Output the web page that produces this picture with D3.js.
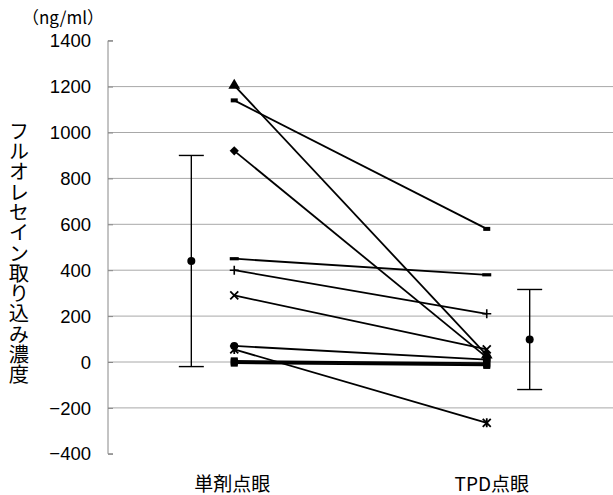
<!DOCTYPE html>
<html>
<head>
<meta charset="utf-8">
<script src="https://cdn.jsdelivr.net/npm/d3@7"></script>
<style>
  html, body { margin: 0; padding: 0; background: #fff; }
  svg { display: block; }
  text { font-family: "Liberation Sans", Arial, "Noto Sans CJK JP", sans-serif; fill: #000; }
  .cjk { font-family: "Noto Sans CJK JP", "Liberation Sans", sans-serif; }
</style>
</head>
<body>
<svg id="chart" width="613" height="495"></svg>
<script>
// ---- data ----
const categories = ["単剤点眼", "TPD点眼"];
const singleValues = [1205, 1140, 920, 450, 400, 290, 70, 55, 5, 0, -5];
const tpdValues    = [30, 580, 20, 380, 210, 55, 10, -265, -5, -10, -15];
const markerTypes  = ["triangle", "dot", "diamond", "dash", "plus", "x", "circle", "asterisk", "square", "square", "square"];
const meanValues = [440, 98];
const sdValues   = [460, 218];
const yTicks = [-400, -200, 0, 200, 400, 600, 800, 1000, 1200, 1400];
const yTitle = "フルオレセイン取り込み濃度";
const unitLabel = "（ng/ml）";

// ---- layout ----
const svg = d3.select("#chart");
const W = 613, H = 495;
const axisX = 108;

const x = d3.scaleBand().domain(categories).range([axisX, W]).padding(0);
const y = d3.scaleLinear().domain([-400, 1400]).range([453.8, 40.7]);

// gridlines
svg.append("g").selectAll("line")
  .data(yTicks.filter(t => t > -400 && t < 1400))
  .join("line")
  .attr("x1", axisX).attr("x2", W)
  .attr("y1", d => y(d)).attr("y2", d => y(d))
  .attr("stroke", "#a8a8a8").attr("stroke-width", 1);

// y axis
const yAxis = d3.axisRight(y).tickValues(yTicks).tickSize(5).tickFormat("");
const ga = svg.append("g").attr("transform", `translate(${axisX},0)`).call(yAxis);
ga.select(".domain").attr("stroke", "#888").attr("d", `M5,${y(1400)}H0V${y(-400)}H5`);
ga.selectAll(".tick line").attr("stroke", "#888");

// tick labels
svg.append("g").selectAll("text")
  .data(yTicks)
  .join("text")
  .attr("x", 91)
  .attr("y", d => y(d))
  .attr("dy", "0.36em")
  .attr("text-anchor", "end")
  .attr("font-size", 18.5)
  .text(d => d < 0 ? "\u2212" + Math.abs(d) : d);

// unit label
svg.append("text")
  .attr("class", "cjk")
  .attr("x", 63).attr("y", 24)
  .attr("text-anchor", "middle")
  .attr("font-size", 17)
  .text(unitLabel);

// y title (vertical)
svg.append("text")
  .attr("class", "cjk")
  .attr("x", 19).attr("y", 121)
  .attr("font-size", 20.3)
  .style("writing-mode", "vertical-rl")
  .style("text-orientation", "upright")
  .text(yTitle);

// category labels
svg.append("g").selectAll("text")
  .data(categories)
  .join("text")
  .attr("class", "cjk")
  .attr("x", (d, i) => x(d) + x.bandwidth() / 2 + (i === 0 ? -2 : 5))
  .attr("y", 491)
  .attr("text-anchor", "middle")
  .attr("font-size", 19)
  .text(d => d);

// paired lines
const cx0 = x(categories[0]) + x.bandwidth() / 2;
const cx1 = x(categories[1]) + x.bandwidth() / 2;
const pairs = singleValues.map((v, i) => ({ a: v, b: tpdValues[i], m: markerTypes[i] }));

svg.append("g").selectAll("line")
  .data(pairs)
  .join("line")
  .attr("x1", cx0).attr("y1", d => y(d.a))
  .attr("x2", cx1).attr("y2", d => y(d.b))
  .attr("stroke", "#000").attr("stroke-width", 1.8);

function drawMarker(g, type, px, py) {
  const s = g.append("g").attr("transform", `translate(${px},${py})`);
  switch (type) {
    case "triangle":
      s.append("path").attr("d", d3.symbol(d3.symbolTriangle, 60)()).attr("fill", "#000"); break;
    case "diamond":
      s.append("path").attr("d", "M0,-4.6L4.6,0L0,4.6L-4.6,0Z").attr("fill", "#000"); break;
    case "circle":
      s.append("circle").attr("r", 4).attr("fill", "#000"); break;
    case "square":
      s.append("rect").attr("x", -3.5).attr("y", -3.5).attr("width", 7).attr("height", 7).attr("fill", "#000"); break;
    case "dot":
      s.append("rect").attr("x", -3.5).attr("y", -2).attr("width", 7).attr("height", 4).attr("fill", "#000"); break;
    case "dash":
      s.append("rect").attr("x", -4.5).attr("y", -1.6).attr("width", 9).attr("height", 3.2).attr("fill", "#000"); break;
    case "plus":
      s.append("path").attr("d", "M-4.5,0H4.5M0,-4.5V4.5").attr("stroke", "#000").attr("stroke-width", 1.6); break;
    case "x":
      s.append("path").attr("d", "M-4,-4L4,4M-4,4L4,-4").attr("stroke", "#000").attr("stroke-width", 1.8); break;
    case "asterisk":
      s.append("path").attr("d", "M-4,-4L4,4M-4,4L4,-4M0,-4.5V4.5").attr("stroke", "#000").attr("stroke-width", 1.8); break;
  }
}
const mg = svg.append("g");
pairs.forEach(p => {
  drawMarker(mg, p.m, cx0, y(p.a));
  drawMarker(mg, p.m, cx1, y(p.b));
});

// mean ± SD
const off = x.bandwidth() * 0.17;
const meanX = [cx0 - off, cx1 + off];
const eg = svg.append("g");
meanValues.forEach((m, i) => {
  const mx = meanX[i];
  const top = y(m + sdValues[i]), bot = y(m - sdValues[i]);
  eg.append("line").attr("x1", mx).attr("x2", mx).attr("y1", top).attr("y2", bot)
    .attr("stroke", "#000").attr("stroke-width", 1.4);
  [top, bot].forEach(yy => eg.append("line")
    .attr("x1", mx - 12.5).attr("x2", mx + 12.5).attr("y1", yy).attr("y2", yy)
    .attr("stroke", "#000").attr("stroke-width", 1.4));
  eg.append("circle").attr("cx", mx).attr("cy", y(m)).attr("r", 4).attr("fill", "#000");
});
</script>
</body>
</html>
